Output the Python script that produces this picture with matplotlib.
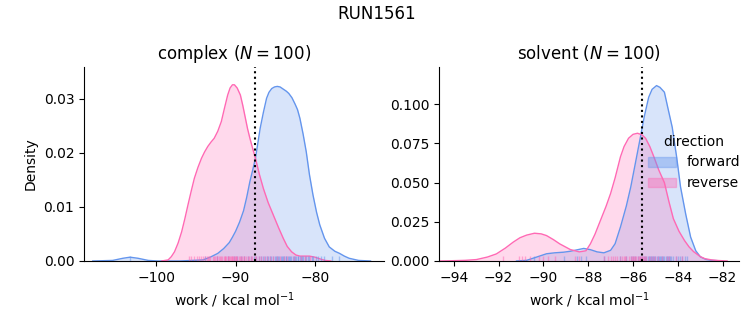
import numpy as np
import matplotlib
matplotlib.use("Agg")
import matplotlib.pyplot as plt
from matplotlib.patches import Patch

# colours used by the two directions
blue = "#6495ED"
pink = "#FF69B4"

# density curves (x = work, y = density)
cx_fwd_x = [-108, -105.5, -104.2, -103.3, -102.3, -101, -99.8, -97, -94.1, -93.2, -92.25, -91.5,
            -90.8, -90.4, -90.0, -89.5, -89.0, -88.6, -88.2, -87.85, -87.5, -87.2, -86.9, -86.5,
            -86.1, -85.8, -85.45, -85.1, -84.75, -84.4, -84.0, -83.6, -83.3, -82.9, -82.5, -82.2,
            -81.9, -81.5, -81.1, -80.7, -80.25, -79.8, -79.4, -78.8, -78.2, -77.5, -76.9, -76.3,
            -75.7, -74.5, -73]
cx_fwd_y = [0, 0.0001, 0.0005, 0.0007, 0.0005, 0.0001, 0, 0, 0.0002, 0.0007, 0.0014, 0.0023,
            0.0034, 0.0044, 0.0055, 0.0072, 0.0093, 0.0118, 0.0147, 0.0168, 0.019, 0.0218, 0.0246,
            0.0275, 0.0301, 0.0312, 0.0319, 0.0322, 0.0323, 0.0322, 0.0318, 0.0314, 0.0310,
            0.0302, 0.029, 0.028, 0.0264, 0.0235, 0.0202, 0.016, 0.0122, 0.009, 0.0067, 0.0042,
            0.0026, 0.0018, 0.0014, 0.0009, 0.0005, 0.0001, 0]

cx_rev_x = [-99.3, -98.5, -98.1, -97.7, -97.25, -96.8, -96.4, -96.0, -95.6, -95.2, -94.75, -94.3,
            -93.9, -93.5, -93.1, -92.7, -92.25, -91.8, -91.4, -91.0, -90.7, -90.4, -90.15, -89.8,
            -89.4, -89.1, -88.5, -88.2, -87.85, -87.5, -87.0, -86.5, -85.9, -85.25, -84.6, -84.0,
            -83.5, -82.95, -82.4, -81.9, -81.3, -80.7, -80.0, -79.4, -78.7, -78.0]
cx_rev_y = [0, 0.0002, 0.0008, 0.0017, 0.0033, 0.0054, 0.0078, 0.0104, 0.0129, 0.0153, 0.0173,
            0.019, 0.0202, 0.0212, 0.022, 0.0227, 0.024, 0.0258, 0.0283, 0.0307, 0.032, 0.0326,
            0.0326, 0.032, 0.0307, 0.0288, 0.0245, 0.0227, 0.0208, 0.019, 0.016, 0.0134, 0.0108,
            0.0085, 0.0062, 0.0042, 0.0027, 0.0017, 0.0011, 0.0009, 0.0009, 0.0009, 0.0007,
            0.0004, 0.0001, 0]

sv_fwd_x = [-91.2, -90.75, -90.3, -89.86, -89.5, -89.1, -88.8, -88.5, -88.2, -87.9, -87.6, -87.3,
            -87.0, -86.8, -86.56, -86.3, -86.1, -85.9, -85.67, -85.5, -85.3, -85.15, -84.95,
            -84.8, -84.6, -84.45, -84.25, -84.05, -83.88, -83.65, -83.43, -83.2, -82.99, -82.75,
            -82.5, -82.0]
sv_fwd_y = [0, 0.0004, 0.0025, 0.0046, 0.0052, 0.0056, 0.0062, 0.0071, 0.008, 0.0072, 0.0058,
            0.0052, 0.0068, 0.011, 0.0217, 0.035, 0.0473, 0.062, 0.079, 0.092, 0.1045, 0.1095,
            0.1119, 0.1108, 0.1077, 0.098, 0.0853, 0.066, 0.0473, 0.03, 0.0153, 0.0065, 0.0026,
            0.001, 0.0004, 0]

sv_rev_x = [-94.6, -94.0, -93.5, -92.99, -92.5, -92.1, -91.7, -91.35, -91.05, -90.75, -90.4,
            -90.1, -89.86, -89.55, -89.27, -88.8, -88.4, -88.1, -87.9, -87.7, -87.45, -87.2, -87.0,
            -86.8, -86.56, -86.4, -86.2, -86.0, -85.8, -85.6, -85.44, -85.25, -85.07, -84.85,
            -84.6, -84.4, -84.2, -83.95, -83.7, -83.5, -83.3, -83.0, -82.8, -82.5, -82.2, -81.8]
sv_rev_y = [0, 0.0002, 0.0004, 0.0009, 0.0025, 0.0045, 0.0082, 0.012, 0.0148, 0.0165, 0.0177,
            0.0173, 0.0162, 0.0136, 0.0109, 0.0073, 0.0058, 0.0065, 0.011, 0.017, 0.026, 0.035,
            0.0431, 0.053, 0.0665, 0.073, 0.0783, 0.0808, 0.0815, 0.0805, 0.0783, 0.073, 0.0665,
            0.058, 0.05, 0.038, 0.027, 0.019, 0.013, 0.009, 0.006, 0.0028, 0.0015, 0.0007, 0.0003,
            0]

# rug positions (individual work values)
cx_fwd_rug = [-103.3, -93.9, -92.4, -91.0, -90.2, -89.8, -89.3, -88.9, -88.5, -88.1, -87.7, -87.4,
              -87.1, -86.8, -86.5, -86.3, -86.1, -85.9, -85.7, -85.5, -85.3, -85.1, -84.9, -84.8,
              -84.6, -84.5, -84.3, -84.2, -84.0, -83.9, -83.7, -83.6, -83.4, -83.3, -83.1, -83.0,
              -82.8, -82.7, -82.5, -82.4, -82.2, -82.1, -81.9, -81.8, -81.6, -81.5, -81.3, -81.1,
              -80.9, -80.7, -80.4, -80.2, -79.9, -79.6, -79.2, -78.9, -77.9, -77.0]
cx_rev_rug = [-95.9, -95.6, -95.2, -94.9, -94.6, -94.4, -94.1, -93.8, -93.6, -93.5, -93.3, -93.2,
              -92.9, -92.7, -92.6, -92.4, -92.3, -92.1, -92.0, -91.8, -91.7, -91.5, -91.4, -91.3,
              -91.2, -91.0, -90.9, -90.8, -90.7, -90.6, -90.5, -90.4, -90.3, -90.2, -90.1, -90.0,
              -89.9, -89.8, -89.6, -89.5, -89.3, -89.2, -89.0, -88.9, -88.7, -88.5, -88.3, -88.1,
              -87.9, -87.6, -87.4, -87.1, -86.8, -86.4, -86.1, -85.7, -85.3, -84.8, -84.4, -83.9,
              -83.5, -82.6, -81.8, -81.2, -80.6]
sv_fwd_rug = [-90.4, -89.1, -88.5, -88.3, -88.1, -87.3, -86.6, -86.3, -86.1, -86.0, -85.9, -85.8,
              -85.7, -85.6, -85.5, -85.45, -85.4, -85.35, -85.3, -85.25, -85.2, -85.15, -85.1,
              -85.05, -85.0, -84.95, -84.9, -84.85, -84.8, -84.75, -84.7, -84.65, -84.6, -84.55,
              -84.5, -84.45, -84.4, -84.35, -84.3, -84.2, -84.1, -84.0, -83.9, -83.8, -83.7, -83.6]
sv_rev_rug = [-91.8, -91.1, -90.95, -90.8, -90.6, -90.2, -90.0, -89.8, -89.5, -88.6, -88.4, -87.3,
              -87.1, -87.0, -86.9, -86.8, -86.7, -86.6, -86.5, -86.4, -86.35, -86.3, -86.2, -86.1,
              -86.05, -86.0, -85.95, -85.9, -85.85, -85.8, -85.75, -85.7, -85.65, -85.6, -85.55,
              -85.5, -85.45, -85.4, -85.3, -85.2, -85.1, -85.0, -84.9, -84.7, -84.5, -84.4, -84.1,
              -83.8]

# free energy estimates (dotted lines)
cx_dg = -87.5
sv_dg = -85.62

fig = plt.figure(figsize=(7.53, 3.25), dpi=100)
ax1 = fig.add_axes([0.1116, 0.197, 0.3984, 0.597])
ax2 = fig.add_axes([0.5836, 0.197, 0.3984, 0.597])

panels = [
    (ax1, "complex", cx_fwd_x, cx_fwd_y, cx_rev_x, cx_rev_y, cx_fwd_rug, cx_rev_rug, cx_dg),
    (ax2, "solvent", sv_fwd_x, sv_fwd_y, sv_rev_x, sv_rev_y, sv_fwd_rug, sv_rev_rug, sv_dg),
]

for ax, name, fx, fy, rx, ry, frug, rrug, dg in panels:
    for xs, ys, c in [(fx, fy, blue), (rx, ry, pink)]:
        ax.fill_between(xs, ys, color=c, alpha=0.25, lw=0)
        ax.plot(xs, ys, color=c, lw=1)
    for rug, c in [(frug, blue), (rrug, pink)]:
        ax.vlines(rug, 0, 0.025, transform=ax.get_xaxis_transform(), color=c, lw=1, alpha=0.5)
    ax.axvline(dg, color="black", ls=":", lw=1.5)
    ax.set_title(name + r" ($N = 100$)")
    ax.set_xlabel(r"work / kcal mol$^{-1}$")
    ax.spines["top"].set_visible(False)
    ax.spines["right"].set_visible(False)

ax1.set_xlim(-109.1, -71.3)
ax1.set_ylim(0, 0.0359)
ax1.set_xticks([-100, -90, -80])
ax1.set_yticks([0, 0.01, 0.02, 0.03])
ax1.set_yticklabels(["0.00", "0.01", "0.02", "0.03"])
ax1.set_ylabel("Density")

ax2.set_xlim(-94.64, -81.25)
ax2.set_ylim(0, 0.1238)
ax2.set_xticks([-94, -92, -90, -88, -86, -84, -82])
ax2.set_yticks([0, 0.025, 0.05, 0.075, 0.1])
ax2.set_yticklabels(["0.000", "0.025", "0.050", "0.075", "0.100"])

handles = [Patch(facecolor=blue, edgecolor=blue, alpha=0.4),
           Patch(facecolor=pink, edgecolor=pink, alpha=0.4)]
fig.legend(handles, ["forward", "reverse"], title="direction", loc="center right",
           bbox_to_anchor=(1.0, 0.5), frameon=False)

fig.suptitle("RUN1561", y=0.985)

fig.savefig("out.png", dpi=100)
